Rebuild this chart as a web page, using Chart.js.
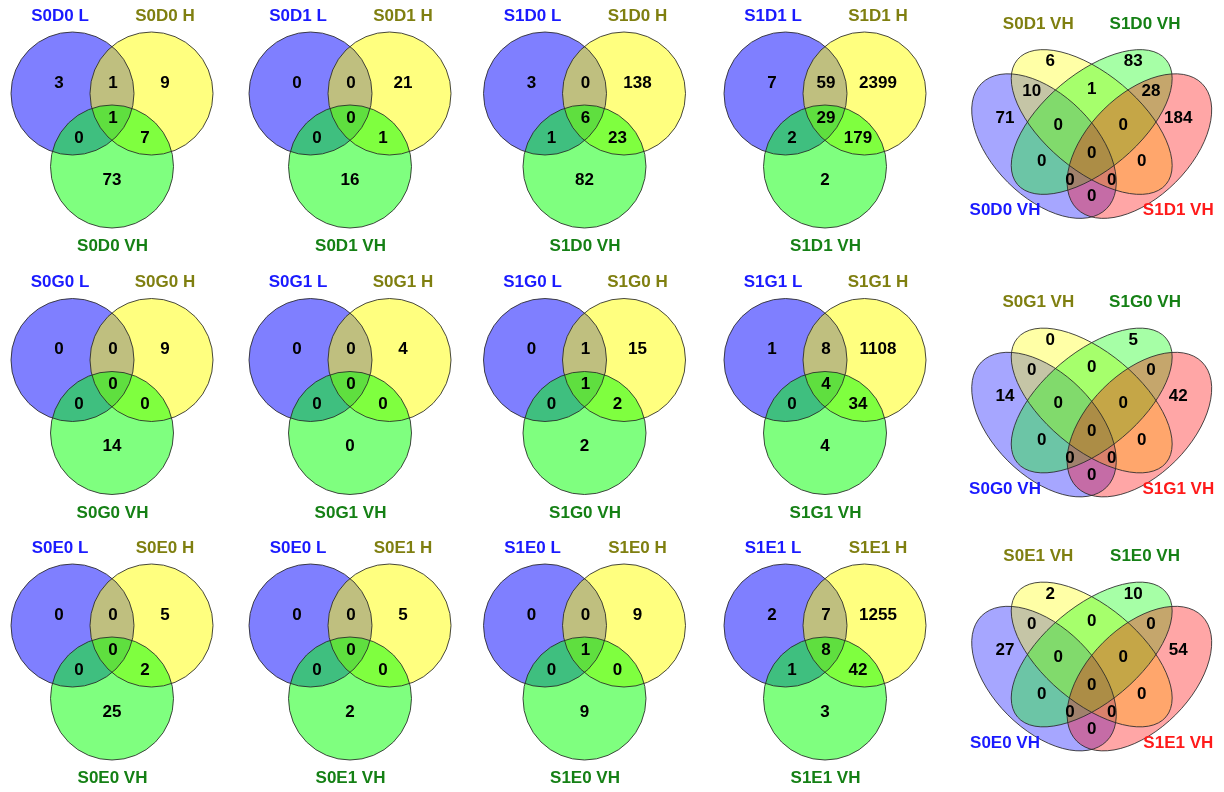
<!DOCTYPE html>
<html>
<head>
<meta charset="utf-8">
<title>Venn overlaps</title>
<script src="https://cdn.jsdelivr.net/npm/chart.js@4.4.1/dist/chart.umd.min.js"></script>
<style>
  html, body { margin: 0; padding: 0; background: #ffffff; }
  #wrap { width: 1224px; height: 792px; position: relative; }
  canvas { display: block; }
</style>
</head>
<body>
<div id="wrap"><canvas id="venn" width="1224" height="792"></canvas></div>
<script>
// ---------- data ----------
// Three-set panels, row by row. Sets: L, H, VH.
const tripleNames = [
  ["S0D0 L", "S0D0 H", "S0D0 VH"], ["S0D1 L", "S0D1 H", "S0D1 VH"],
  ["S1D0 L", "S1D0 H", "S1D0 VH"], ["S1D1 L", "S1D1 H", "S1D1 VH"],
  ["S0G0 L", "S0G0 H", "S0G0 VH"], ["S0G1 L", "S0G1 H", "S0G1 VH"],
  ["S1G0 L", "S1G0 H", "S1G0 VH"], ["S1G1 L", "S1G1 H", "S1G1 VH"],
  ["S0E0 L", "S0E0 H", "S0E0 VH"], ["S0E0 L", "S0E1 H", "S0E1 VH"],
  ["S1E0 L", "S1E0 H", "S1E0 VH"], ["S1E1 L", "S1E1 H", "S1E1 VH"]
];
// region order: L only, L&H, H only, L&H&VH, L&VH, H&VH, VH only
const tripleCounts = [
  [3, 1, 9, 1, 0, 7, 73],
  [0, 0, 21, 0, 0, 1, 16],
  [3, 0, 138, 6, 1, 23, 82],
  [7, 59, 2399, 29, 2, 179, 2],
  [0, 0, 9, 0, 0, 0, 14],
  [0, 0, 4, 0, 0, 0, 0],
  [0, 1, 15, 1, 0, 2, 2],
  [1, 8, 1108, 4, 0, 34, 4],
  [0, 0, 5, 0, 0, 2, 25],
  [0, 0, 5, 0, 0, 0, 2],
  [0, 0, 9, 1, 0, 0, 9],
  [2, 7, 1255, 8, 1, 42, 3]
];
// Four-set panels (VH only). Sets 1..4.
const quadNames = [
  ["S0D0 VH", "S0D1 VH", "S1D0 VH", "S1D1 VH"],
  ["S0G0 VH", "S0G1 VH", "S1G0 VH", "S1G1 VH"],
  ["S0E0 VH", "S0E1 VH", "S1E0 VH", "S1E1 VH"]
];
// region order: 1, 2, 3, 4, 12, 23, 34, 123, 234, 1234, 13, 24, 134, 124, 14
const quadCounts = [
  [71, 6, 83, 184, 10, 1, 28, 0, 0, 0, 0, 0, 0, 0, 0],
  [14, 0, 5, 42, 0, 0, 0, 0, 0, 0, 0, 0, 0, 0, 0],
  [27, 2, 10, 54, 0, 0, 0, 0, 0, 0, 0, 0, 0, 0, 0]
];

// ---------- layout ----------
const COL_X = [72.5, 310.5, 545, 785.5];   // first circle centre per column
const ROW_Y = [93.5, 360, 625.5];          // first circle centre per row
const TRI_R = 61.5;
const TRI_CIRCLES = [[0, 0], [79, 0], [39.5, 73]];
const TRI_TEXT = [[-13.5, -10.5], [40.5, -10.5], [92.5, -10.5], [40.5, 24.5], [6.5, 44.5], [72.5, 44.5], [39.5, 86.5]];
const TRI_NAME_POS = [[-12.5, -77.5], [92.5, -77.5], [40, 153]];
const TRI_FILL = ["rgba(0,0,255,0.5)", "rgba(255,255,0,0.5)", "rgba(0,255,0,0.5)"];
const TRI_NAME_COL = ["#1a1aff", "#7f7f10", "#158015"];

const QUAD_X = 1091.7;
const QUAD_DY = [0, 278.5, 532.5];
// ellipses: centre offset, semi axes, rotation (deg)
const QUAD_ELL = [
  { dx: -47.7, y: 146.1, a: 88.5, b: 51.2, rot: 45 },
  { dx: 0,     y: 122,   a: 97,   b: 48,   rot: 40 },
  { dx: 0,     y: 122,   a: 97,   b: 48,   rot: -40 },
  { dx: 47.7,  y: 146.1, a: 88.5, b: 51.2, rot: -45 }
];
const QUAD_FILL = ["rgba(0,0,255,0.35)", "rgba(255,255,0,0.35)", "rgba(0,255,0,0.35)", "rgba(255,0,0,0.35)"];
const QUAD_TEXT = [[-86.7, 118.3], [-41.5, 61.7], [41.5, 61.7], [86.6, 118.3], [-60, 91.7], [0, 89.3], [59.3, 91.7],
  [-33.4, 125], [31.6, 125], [0, 153.3], [-50, 161.7], [50, 161.7], [-21.7, 180], [20, 180], [0, 196.7]];
const QUAD_NAME_POS = [[-86.7, 210.7], [-53.4, 24], [53.3, 24], [86.6, 210.7]];
const QUAD_NAME_COL = ["#1a1aff", "#7f7f10", "#158015", "#ff1a1a"];

const FONT = "bold 17px 'Liberation Sans', Arial, sans-serif";
const OUTLINE = "rgba(40,40,40,0.85)";

// ---------- shapes ----------
const shapes = [];
tripleCounts.forEach((_, p) => {
  const r = Math.floor(p / 4), c = p % 4;
  TRI_CIRCLES.forEach((o, k) => shapes.push({
    cx: COL_X[c] + o[0], cy: ROW_Y[r] + o[1], a: TRI_R, b: TRI_R, rot: 0, fill: TRI_FILL[k]
  }));
});
quadCounts.forEach((_, r) => {
  QUAD_ELL.forEach((e, k) => shapes.push({
    cx: QUAD_X + e.dx, cy: QUAD_DY[r] + e.y, a: e.a, b: e.b, rot: e.rot, fill: QUAD_FILL[k]
  }));
});

// ---------- text datasets ----------
const datasets = [];
tripleCounts.forEach((counts, p) => {
  const r = Math.floor(p / 4), c = p % 4;
  datasets.push({
    label: "counts " + tripleNames[p][2],
    data: counts.map((v, i) => ({ x: COL_X[c] + TRI_TEXT[i][0], y: ROW_Y[r] + TRI_TEXT[i][1], t: String(v), col: "#000" }))
  });
  datasets.push({
    label: "sets " + tripleNames[p][2],
    data: tripleNames[p].map((n, i) => ({ x: COL_X[c] + TRI_NAME_POS[i][0], y: ROW_Y[r] + TRI_NAME_POS[i][1], t: n, col: TRI_NAME_COL[i] }))
  });
});
quadCounts.forEach((counts, r) => {
  datasets.push({
    label: "counts quad " + r,
    data: counts.map((v, i) => ({ x: QUAD_X + QUAD_TEXT[i][0], y: QUAD_DY[r] + QUAD_TEXT[i][1], t: String(v), col: "#000" }))
  });
  datasets.push({
    label: "sets quad " + r,
    data: quadNames[r].map((n, i) => ({ x: QUAD_X + QUAD_NAME_POS[i][0], y: QUAD_DY[r] + QUAD_NAME_POS[i][1], t: n, col: QUAD_NAME_COL[i] }))
  });
});
datasets.forEach(d => { d.pointRadius = 0; d.pointHoverRadius = 0; d.showLine = false; });

const vennPlugin = {
  id: "vennShapes",
  beforeDatasetsDraw(chart) {
    const { ctx, scales: { x, y } } = chart;
    const paths = shapes.map(s => {
      const px = x.getPixelForValue(s.cx), py = y.getPixelForValue(s.cy);
      const rx = Math.abs(x.getPixelForValue(s.cx + s.a) - px);
      const ry = Math.abs(y.getPixelForValue(s.cy + s.b) - py);
      const path = new Path2D();
      path.ellipse(px, py, rx, ry, s.rot * Math.PI / 180, 0, Math.PI * 2);
      return { path, fill: s.fill };
    });
    ctx.save();
    paths.forEach(p => { ctx.fillStyle = p.fill; ctx.fill(p.path); });
    ctx.strokeStyle = OUTLINE;
    ctx.lineWidth = 1;
    paths.forEach(p => ctx.stroke(p.path));
    ctx.restore();
  },
  afterDatasetsDraw(chart) {
    const ctx = chart.ctx;
    ctx.save();
    ctx.font = FONT;
    ctx.textAlign = "center";
    ctx.textBaseline = "middle";
    chart.data.datasets.forEach((ds, i) => {
      const meta = chart.getDatasetMeta(i);
      meta.data.forEach((el, j) => {
        ctx.fillStyle = ds.data[j].col;
        ctx.fillText(ds.data[j].t, el.x, el.y);
      });
    });
    ctx.restore();
  }
};

new Chart(document.getElementById("venn"), {
  type: "scatter",
  data: { datasets },
  options: {
    responsive: false,
    animation: false,
    events: [],
    layout: { padding: 0 },
    plugins: { legend: { display: false }, tooltip: { enabled: false }, title: { display: false } },
    scales: {
      x: { type: "linear", min: 0, max: 1224, display: false },
      y: { type: "linear", min: 0, max: 792, reverse: true, display: false }
    }
  },
  plugins: [vennPlugin]
});
</script>
</body>
</html>
